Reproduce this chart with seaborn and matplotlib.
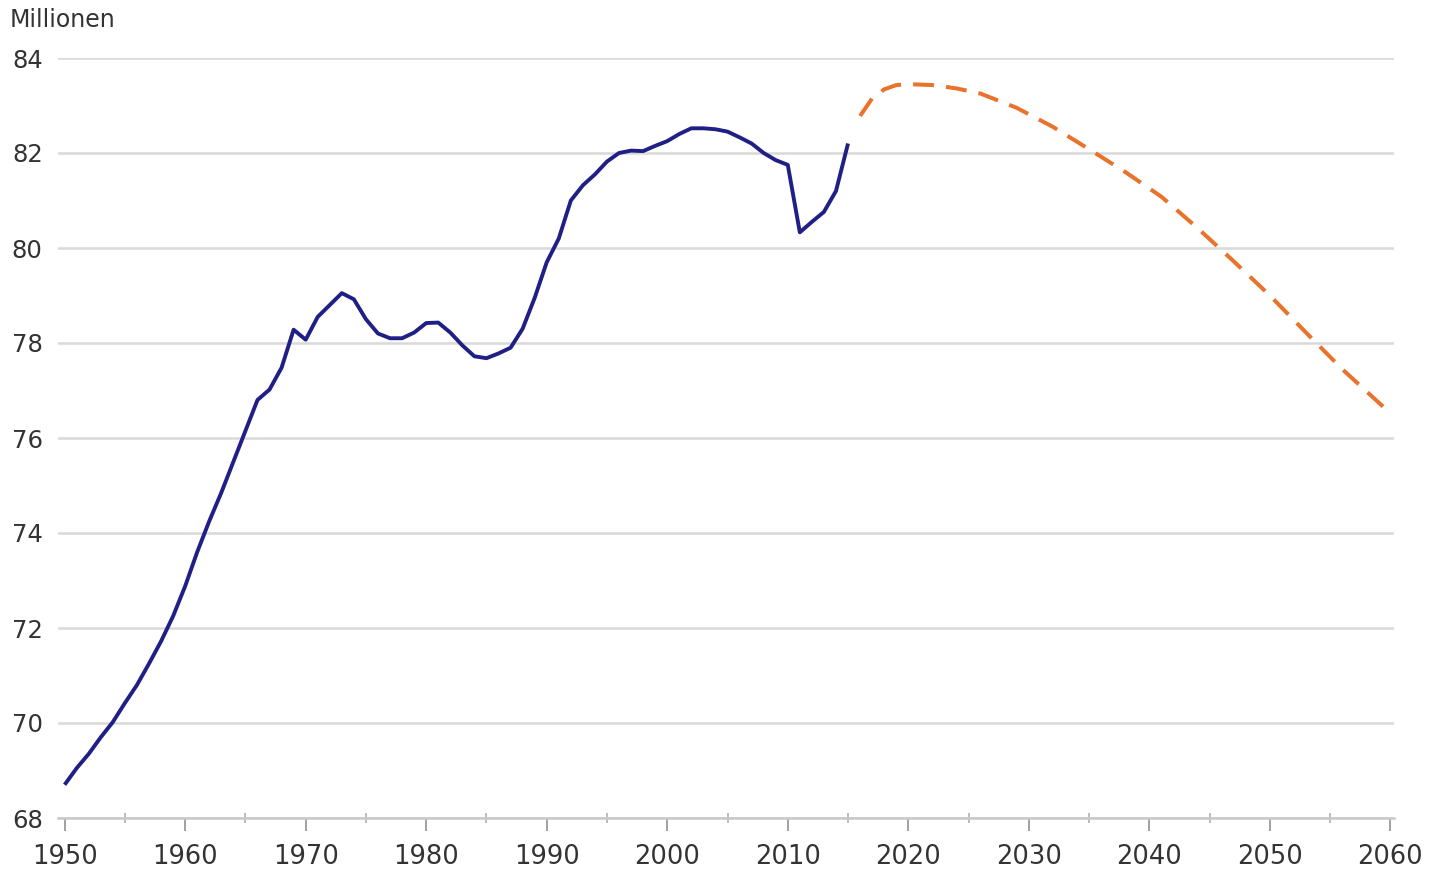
import matplotlib
matplotlib.use("Agg")
import matplotlib.pyplot as plt
import seaborn as sns
import pandas as pd
from matplotlib.ticker import MultipleLocator

# ---- data ----
hist_years = list(range(1950, 2016))
hist_values = [
    68.70, 69.05, 69.35, 69.70, 70.02, 70.42, 70.80, 71.25, 71.72, 72.25,
    72.88, 73.60, 74.25, 74.85, 75.50, 76.15, 76.80, 77.02, 77.48, 78.28,
    78.07, 78.55, 78.80, 79.05, 78.92, 78.50, 78.20, 78.10, 78.10, 78.22,
    78.42, 78.43, 78.22, 77.95, 77.72, 77.68, 77.78, 77.90, 78.30, 78.95,
    79.70, 80.20, 81.00, 81.32, 81.55, 81.82, 82.00, 82.05, 82.04, 82.15,
    82.25, 82.40, 82.52, 82.52, 82.50, 82.45, 82.33, 82.20, 82.00, 81.85,
    81.75, 80.33, 80.55, 80.76, 81.20, 82.20,
]
proj_years = [2016, 2017, 2018, 2019, 2020, 2022, 2024, 2026, 2029, 2032,
              2035, 2038, 2041, 2044, 2047, 2050, 2053, 2056, 2060]
proj_values = [82.78, 83.15, 83.34, 83.43, 83.45, 83.43, 83.36, 83.25, 82.95, 82.55,
               82.08, 81.60, 81.08, 80.42, 79.72, 79.00, 78.22, 77.45, 76.52]
x_ticks = list(range(1950, 2061, 10))
y_ticks = list(range(68, 85, 2))
unit_label = "Millionen"

hist = pd.DataFrame({"Jahr": hist_years, "Bevölkerung": hist_values})
proj = pd.DataFrame({"Jahr": proj_years, "Bevölkerung": proj_values})

sns.set_theme(style="white")
plt.rcParams["font.family"] = ["DejaVu Sans"]

fig = plt.figure(figsize=(14.33, 8.76), dpi=100)
ax = fig.add_axes([58 / 1433, 1 - 818 / 876, (1394 - 58) / 1433, (818 - 58) / 876])

sns.lineplot(data=hist, x="Jahr", y="Bevölkerung", ax=ax, color="#1f1f85",
             linewidth=2.8, solid_joinstyle="round", solid_capstyle="butt")
sns.lineplot(data=proj, x="Jahr", y="Bevölkerung", ax=ax, color="#e8732c",
             linewidth=2.9, linestyle=(0, (5.2, 3.0)), dash_capstyle="butt")

ax.set_xlim(1949.45, 2060.3)
ax.set_ylim(68, 84)
ax.set_xticks(x_ticks)
ax.xaxis.set_minor_locator(MultipleLocator(5))
ax.set_yticks(y_ticks)
ax.set_xlabel("")
ax.set_ylabel("")

ax.yaxis.grid(True, color="#d9d9d9", linewidth=1.8)
ax.xaxis.grid(False)
ax.set_axisbelow(True)
for s in ["top", "right", "left"]:
    ax.spines[s].set_visible(False)
ax.spines["bottom"].set_color("#c8c8c8")
ax.spines["bottom"].set_linewidth(1.8)

ax.tick_params(axis="x", which="major", direction="out", length=9.5, width=1.3,
               color="#9a9a9a", pad=9, labelsize=18.5, labelcolor="#333333")
ax.tick_params(axis="x", which="minor", direction="inout", length=7, width=1.2,
               color="#b0b0b0")
ax.tick_params(axis="y", which="major", length=0, pad=11, labelsize=17.5,
               labelcolor="#333333")
ax.tick_params(bottom=True, which="both")

fig.text(10 / 1433, 1 - 8 / 876, unit_label, ha="left", va="top",
         fontsize=17, color="#333333")

fig.savefig("out.png", dpi=100, facecolor="white")
